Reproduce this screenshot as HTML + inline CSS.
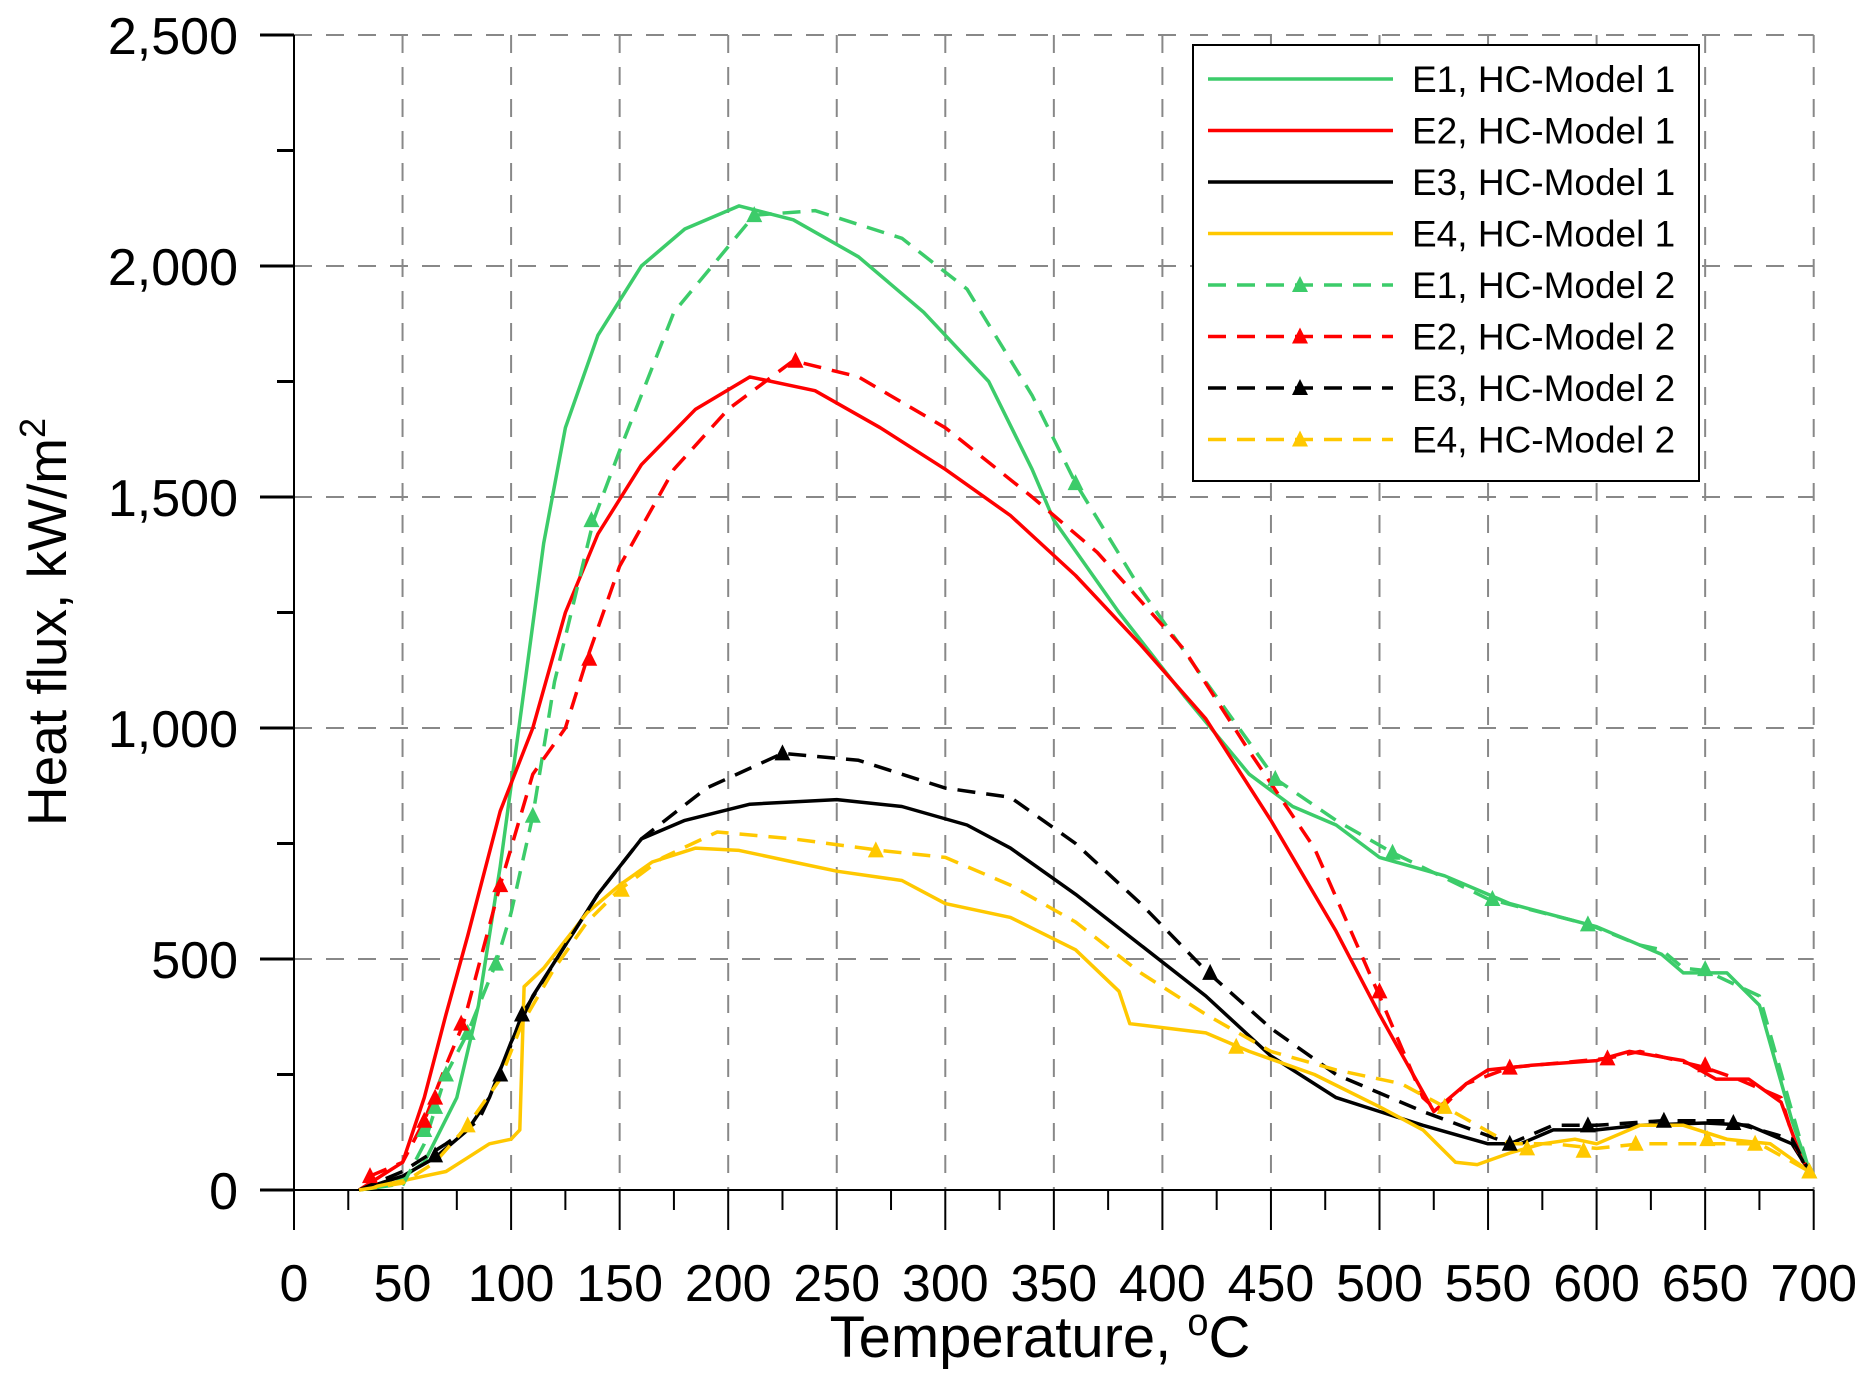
<!DOCTYPE html>
<html><head><meta charset="utf-8"><style>
html,body{margin:0;padding:0;background:#fff;}
svg{display:block;font-family:"Liberation Sans",Arial,sans-serif;}
</style></head><body>
<svg id="s" width="1866" height="1393" viewBox="0 0 1866 1393" xmlns="http://www.w3.org/2000/svg">
<rect width="1866" height="1393" fill="#fff"/>
<g id="grid" stroke="#888" stroke-width="2" stroke-dasharray="18,14"></g>
<g id="axes" stroke="#000" stroke-width="2"></g>
<g id="labels" font-size="52" fill="#000"></g>
<g id="series" fill="none" stroke-width="3.5" stroke-linejoin="round"></g>
<g id="marks"></g>
<text x="1040" y="1357" font-size="58" text-anchor="middle">Temperature, <tspan font-size="38" dy="-22">o</tspan><tspan dy="22">C</tspan></text>
<text transform="translate(66,622) rotate(-90)" font-size="55" text-anchor="middle">Heat flux, kW/m<tspan font-size="36" dy="-21">2</tspan></text>
<rect x="1193" y="45" width="506" height="436" fill="#fff" stroke="#000" stroke-width="2"/>
<g id="legend" font-size="37"></g>
</svg>
<script>
var NS="http://www.w3.org/2000/svg";
function X(t){return 294+t*2.171;}
function Y(v){return 1190-v*0.462;}
function el(p,n,a,txt){var e=document.createElementNS(NS,n);for(var k in a)e.setAttribute(k,a[k]);if(txt!==undefined)e.textContent=txt;document.getElementById(p).appendChild(e);return e;}
for(var t=50;t<=700;t+=50)el("grid","line",{x1:X(t),x2:X(t),y1:Y(2500),y2:Y(0)});
for(var v=500;v<=2500;v+=500)el("grid","line",{x1:X(0),x2:X(700),y1:Y(v),y2:Y(v)});
el("axes","line",{x1:X(0),x2:X(0),y1:Y(2500),y2:Y(0)});
el("axes","line",{x1:X(0),x2:X(700),y1:Y(0),y2:Y(0)});
for(var v=0;v<=2500;v+=250){var L=(v%500==0)?34:17;el("axes","line",{x1:X(0)-L,x2:X(0),y1:Y(v),y2:Y(v),"stroke-width":3});}
for(var t=0;t<=700;t+=25){var L=(t%50==0)?40:20;el("axes","line",{x1:X(t),x2:X(t),y1:Y(0),y2:Y(0)+L});}
var yl=["0","500","1,000","1,500","2,000","2,500"];
for(var i=0;i<6;i++)el("labels","text",{x:238,y:Y(i*500)+19,"text-anchor":"end"},yl[i]);
for(var t=0;t<=700;t+=50)el("labels","text",{x:X(t),y:1301,"text-anchor":"middle"},String(t));
var G="#3ccc6a",R="#ff0000",K="#000000",Yc="#ffc800";
function pts(a){var s="";for(var i=0;i<a.length;i+=2)s+=(i?"L":"M")+X(a[i]).toFixed(1)+","+Y(a[i+1]).toFixed(1);return s;}
function tri(x,y,c,g){el(g,"polygon",{points:(x-8)+","+(y+7)+" "+(x+8)+","+(y+7)+" "+x+","+(y-9),fill:c});}
var S=[
[G,0,[30,0,45,10,60,60,75,200,85,400,95,700,105,1050,115,1400,125,1650,140,1850,160,2000,180,2080,205,2130,230,2100,260,2020,290,1900,320,1750,340,1560,350,1450,380,1250,410,1070,440,900,460,830,480,790,500,720,530,680,560,620,600,570,630,510,640,470,660,470,675,400,690,150,698,40],[]],
[R,0,[30,0,40,30,50,60,60,200,70,380,80,550,95,820,110,1000,125,1250,140,1420,160,1570,185,1690,210,1760,240,1730,270,1650,300,1560,330,1460,360,1330,390,1180,420,1020,450,800,480,560,500,380,525,170,540,230,550,260,570,270,600,280,615,300,640,280,655,240,670,240,685,190,695,60],[]],
[K,0,[30,0,50,30,65,70,80,130,90,200,100,320,110,420,125,530,140,640,160,760,180,800,210,835,250,845,280,830,310,790,330,740,360,640,390,530,420,420,450,290,480,200,500,170,520,140,550,100,565,100,580,130,600,130,620,140,650,145,670,140,690,100,698,40],[]],
[Yc,0,[30,0,50,20,60,30,70,40,80,70,90,100,100,110,104,130,106,440,115,480,125,540,135,600,150,660,165,710,185,740,205,735,230,710,250,690,280,670,300,620,330,590,360,520,380,430,385,360,420,340,440,300,470,250,500,180,520,130,535,60,545,55,560,80,575,100,590,110,600,100,620,140,640,140,660,110,680,100,698,40],[]],
[G,1,[50,10,60,100,70,250,80,340,93,490,100,600,110,810,120,1100,138,1450,150,1600,175,1900,212,2110,240,2120,280,2060,310,1950,340,1720,360,1530,390,1300,420,1100,452,890,480,800,506,730,550,630,596,575,620,530,630,520,640,480,650,475,675,420,690,170,698,40],[60,130,65,180,70,250,80,340,93,490,110,810,137,1450,212,2110,360,1530,452,890,506,730,552,630,596,575,650,478,698,40]],
[R,1,[35,30,50,60,60,150,70,270,78,360,95,660,110,900,125,1000,135,1150,150,1350,175,1560,200,1690,230,1795,260,1760,300,1650,340,1500,370,1380,410,1170,440,950,470,740,500,420,520,200,527,170,540,230,560,265,605,285,620,300,650,265,665,240,685,200,692,90,698,40],[35,30,60,150,65,200,77,360,95,660,136,1150,231,1795,500,430,560,265,605,285,650,270]],
[K,1,[30,0,50,40,70,100,85,150,95,250,105,380,125,530,140,640,160,760,190,870,225,945,260,930,300,870,330,850,360,750,390,620,420,475,450,350,480,250,520,170,560,100,580,140,600,140,630,150,660,150,690,110,698,40],[65,75,95,250,105,380,225,945,422,470,560,100,596,140,631,150,663,145]],
[Yc,1,[30,0,50,15,65,60,80,140,95,240,105,360,120,480,135,580,150,650,170,720,195,775,230,760,270,735,300,720,330,660,360,580,390,470,420,380,450,300,480,260,510,230,530,180,560,100,580,100,600,90,620,100,650,100,675,100,698,40],[80,140,151,650,268,735,434,310,530,180,568,90,594,85,618,100,651,110,673,100,698,40]]
];
S.forEach(function(s){var a={d:pts(s[2]),stroke:s[0]};if(s[1])a["stroke-dasharray"]="18,11";el("series","path",a);
for(var i=0;i<s[3].length;i+=2)tri(X(s[3][i]),Y(s[3][i+1]),s[0],"marks");});
var names=["E1, HC-Model 1","E2, HC-Model 1","E3, HC-Model 1","E4, HC-Model 1","E1, HC-Model 2","E2, HC-Model 2","E3, HC-Model 2","E4, HC-Model 2"];
var cols=[G,R,K,Yc,G,R,K,Yc];
for(var i=0;i<8;i++){var y=79+i*51.5;var a={x1:1208,x2:1393,y1:y,y2:y,stroke:cols[i],"stroke-width":3.5};if(i>=4)a["stroke-dasharray"]="18,11";el("legend","line",a);
if(i>=4)tri(1300,y,cols[i],"legend");
el("legend","text",{x:1412,y:y+13},names[i]);}
</script>
</body></html>
